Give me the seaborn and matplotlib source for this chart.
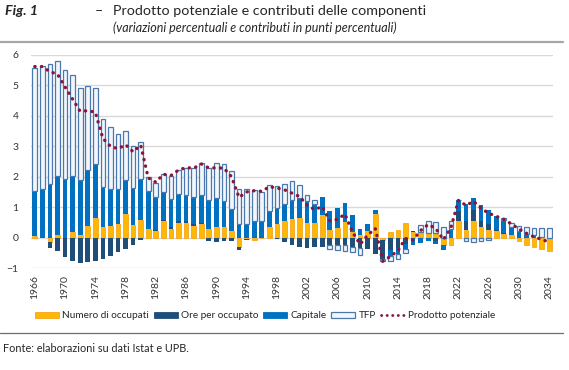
import numpy as np
import matplotlib
matplotlib.use("Agg")
import matplotlib.pyplot as plt
from matplotlib.patches import Patch
from matplotlib.lines import Line2D
import seaborn as sns

# contributi alla crescita del prodotto potenziale, 1966-2034
anni = list(range(1966, 2035))
occupati = [0.04, 0.00, -0.13, 0.07, -0.02, 0.18, 0.10, 0.37, 0.65, 0.36,
            0.37, 0.45, 0.78, 0.40, 0.59, 0.28, 0.23, 0.53, 0.29, 0.48,
            0.47, 0.37, 0.45, 0.29, 0.34, 0.34, 0.20, -0.32, -0.05, -0.08,
            -0.03, 0.34, 0.43, 0.54, 0.62, 0.64, 0.47, 0.48, 0.73, 0.25,
            0.32, 0.51, 0.18, 0.07, 0.20, 0.76, -0.07, 0.18, 0.26, 0.48,
            0.18, 0.18, 0.14, 0.14, -0.23, -0.23, 0.56, 0.26, 0.56, 0.36,
            0.26, 0.20, 0.12, 0.07, -0.10, -0.23, -0.31, -0.36, -0.45]
ore = [0.00, 0.00, -0.21, -0.45, -0.63, -0.76, -0.84, -0.81, -0.78, -0.70,
       -0.59, -0.48, -0.37, -0.23, -0.08, 0.00, 0.03, 0.05, 0.07, 0.07,
       0.08, 0.08, 0.03, -0.10, -0.13, -0.12, -0.10, -0.08, -0.02, 0.00,
       0.00, 0.00, -0.04, -0.15, -0.26, -0.32, -0.34, -0.32, -0.30, -0.24,
       -0.26, -0.26, -0.32, -0.34, -0.38, -0.55, -0.62, -0.40, -0.35, -0.20,
       0.04, 0.00, -0.02, -0.10, 0.00, 0.00, 0.30, 0.30, 0.33, 0.20,
       0.20, 0.05, 0.03, 0.00, 0.00, 0.00, 0.00, 0.00, 0.00]
capitale = [1.49, 1.61, 1.77, 1.95, 1.92, 1.83, 1.78, 1.84, 1.76, 1.30,
            1.24, 1.16, 1.12, 1.23, 1.35, 1.24, 1.07, 0.92, 0.92, 0.87,
            0.86, 0.88, 0.93, 0.95, 0.96, 0.85, 0.75, 0.45, 0.43, 0.54,
            0.56, 0.52, 0.54, 0.57, 0.60, 0.67, 0.72, 0.63, 0.60, 0.61,
            0.65, 0.63, 0.55, 0.22, 0.25, 0.13, 0.00, -0.19, -0.19, -0.17,
            -0.24, -0.19, -0.10, -0.12, -0.17, 0.29, 0.36, 0.55, 0.41, 0.50,
            0.43, 0.47, 0.43, 0.29, 0.23, 0.12, 0.10, 0.02, 0.00]
tfp = [4.04, 4.03, 3.93, 3.79, 3.59, 3.33, 3.03, 2.78, 2.50, 2.23,
       2.01, 1.79, 1.61, 1.38, 1.21, 0.47, 0.47, 0.60, 0.73, 0.79,
       0.89, 0.96, 1.04, 1.03, 1.15, 1.22, 1.23, 1.16, 1.18, 1.03,
       0.94, 0.86, 0.71, 0.66, 0.63, 0.41, 0.22, 0.11, 0.00, -0.13,
       -0.16, -0.17, -0.16, -0.22, 0.00, 0.00, -0.08, -0.17, -0.16, -0.14,
       0.00, 0.22, 0.40, 0.38, 0.34, 0.27, 0.03, -0.10, -0.13, -0.12,
       -0.07, 0.00, 0.05, 0.11, 0.15, 0.24, 0.22, 0.29, 0.31]
potenziale = [5.62, 5.62, 5.45, 5.37, 4.95, 4.55, 4.15, 4.17, 4.12, 3.26,
              3.00, 2.92, 3.05, 2.82, 3.04, 1.96, 1.82, 2.08, 2.04, 2.22,
              2.30, 2.28, 2.42, 2.29, 2.29, 2.28, 2.00, 1.32, 1.50, 1.54,
              1.52, 1.67, 1.63, 1.57, 1.46, 1.35, 1.06, 0.92, 1.02, 0.55,
              0.60, 0.77, 0.18, -0.22, 0.08, 0.30, -0.78, -0.62, -0.43, -0.03,
              -0.08, 0.23, 0.43, 0.30, -0.07, 0.32, 1.22, 1.06, 1.19, 0.96,
              0.80, 0.70, 0.60, 0.45, 0.28, 0.14, 0.02, -0.06, -0.15]

sns.set_style("white")
plt.rcParams['font.family'] = ['Lato', 'DejaVu Sans']

fig = plt.figure(figsize=(5.69, 3.70), dpi=100)
ax = fig.add_axes([31/569, 1-268/370, 522/569, 213/370])

serie = [
    ("Numero di occupati", occupati, '#FFB800', '#F5A623', 0.6),
    ("Ore per occupato", ore, '#1F4E79', '#1F4E79', 0.0),
    ("Capitale", capitale, '#0070C0', '#0070C0', 0.0),
    ("TFP", tfp, '#F2F6FB', '#4A78AC', 0.9),
]

x = np.array(anni)
pos = np.zeros(len(anni))
neg = np.zeros(len(anni))
for nome, valori, fc, ec, lw in serie:
    v = np.array(valori)
    base = np.where(v >= 0, pos, neg)
    m = v != 0
    ax.bar(x[m], v[m], bottom=base[m], width=0.62, color=fc,
           edgecolor=ec, linewidth=lw, zorder=2)
    pos += np.clip(v, 0, None)
    neg += np.clip(v, None, 0)

sns.lineplot(x=anni, y=potenziale, ax=ax, color='#8A1538', lw=2.4,
             linestyle=(0, (0.1, 1.9)), dash_capstyle='round', zorder=3)

ax.set_xlim(1965.5, 2034.5)
ax.set_ylim(-1, 6)
ax.set_yticks(range(-1, 7))
ax.set_xticks(range(1966, 2035, 4))
ax.set_xticklabels([str(a) for a in range(1966, 2035, 4)], rotation=90)
ax.yaxis.grid(True, color='#D9D9D9', lw=1)
ax.xaxis.grid(False)
ax.set_axisbelow(True)
sns.despine(ax=ax, left=True, bottom=True)
ax.tick_params(axis='both', length=0, labelsize=7.5, colors='#333333')
ax.tick_params(axis='y', pad=9)
ax.tick_params(axis='x', pad=5)

# legenda
handles = [Patch(facecolor=fc, edgecolor=ec, linewidth=max(lw, 0.6)) for _, _, fc, ec, lw in serie]
handles.append(Line2D([0], [0], color='#8A1538', lw=2.0, linestyle=(0, (0.1, 1.9)),
                      dash_capstyle='round'))
labels = [s[0] for s in serie] + ["Prodotto potenziale"]
fig.legend(handles, labels, loc='center', bbox_to_anchor=(265/569, 1-316/370),
           ncol=5, frameon=False, fontsize=7.2, handlelength=2.4, handleheight=0.5,
           handletextpad=0.3, columnspacing=0.5, borderaxespad=0)

# titolo
fig.text(5/569, 1-11/370, "Fig. 1", fontsize=10.3, fontweight='bold', fontstyle='italic',
         va='center', ha='left')
fig.text(95/569, 1-11/370, "\u2013", fontsize=10.3, va='center', ha='left')
fig.text(113/569, 1-11/370, "Prodotto potenziale e contributi delle componenti",
         fontsize=10.3, va='center', ha='left')
fig.text(113/569, 1-28/370, "(variazioni percentuali e contributi in punti percentuali)",
         fontsize=9.0, fontstyle='italic', va='center', ha='left')

fig.add_artist(Line2D([0, 0.99], [1-42/370, 1-42/370], transform=fig.transFigure,
                      color='#A6A6A6', lw=1.6))
fig.add_artist(Line2D([0, 0.99], [1-333/370, 1-333/370], transform=fig.transFigure,
                      color='#6E6E6E', lw=0.9))
fig.text(3/569, 1-348/370, "Fonte: elaborazioni su dati Istat e UPB.", fontsize=7.8,
         va='center', ha='left')

fig.savefig("out.png", dpi=100)
